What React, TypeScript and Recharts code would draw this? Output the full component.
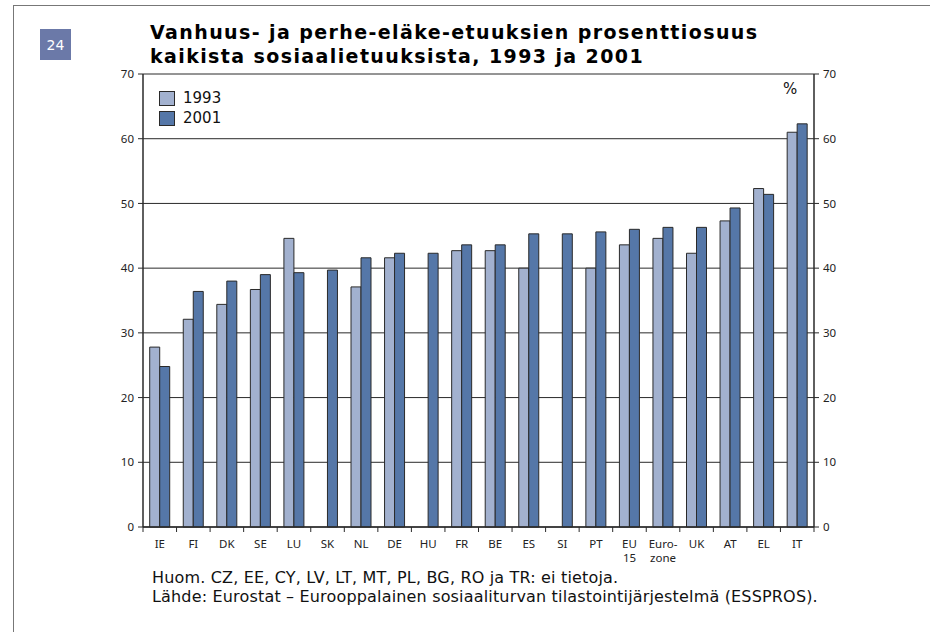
import React from 'react';
import { Bar, BarChart, CartesianGrid, XAxis, YAxis } from 'recharts';

const countries = ['IE', 'FI', 'DK', 'SE', 'LU', 'SK', 'NL', 'DE', 'HU', 'FR', 'BE', 'ES', 'SI', 'PT', 'EU\n15', 'Euro-\nzone', 'UK', 'AT', 'EL', 'IT'];
const values1993 = [27.8, 32.1, 34.4, 36.7, 44.6, null, 37.1, 41.6, null, 42.7, 42.7, 40.0, null, 40.0, 43.6, 44.6, 42.3, 47.3, 52.3, 61.0];
const values2001 = [24.8, 36.4, 38.0, 39.0, 39.3, 39.7, 41.6, 42.3, 42.3, 43.6, 43.6, 45.3, 45.3, 45.6, 46.0, 46.3, 46.3, 49.3, 51.4, 62.3];
const yTicks = [0, 10, 20, 30, 40, 50, 60, 70];

const titleLines = ['Vanhuus- ja perhe-eläke-etuuksien prosenttiosuus', 'kaikista sosiaalietuuksista, 1993 ja 2001'];
const notes = ['Huom. CZ, EE, CY, LV, LT, MT, PL, BG, RO ja TR: ei tietoja.', 'Lähde: Eurostat – Eurooppalainen sosiaaliturvan tilastointijärjestelmä (ESSPROS).'];

const COLOR_1993 = '#a2b1cf';
const COLOR_2001 = '#5577a8';
const LINE = '#2a2a2a';

const series = [
  { key: 'v1993', name: '1993', color: COLOR_1993 },
  { key: 'v2001', name: '2001', color: COLOR_2001 },
];

const data = countries.map((name, i) => ({ name, v1993: values1993[i], v2001: values2001[i] }));

// category label plus a small tick mark on the left edge of each band
const CountryTick = (props: any) => {
  const { x, y, payload, index, visibleTicksCount } = props;
  const half = payload.offset || 0;
  const lines = String(payload.value).split('\n');
  return (
    <g>
      <line x1={x - half} x2={x - half} y1={y} y2={y + 5} stroke={LINE} />
      {index === visibleTicksCount - 1 && <line x1={x + half} x2={x + half} y1={y} y2={y + 5} stroke={LINE} />}
      <text x={x} y={y + 21} textAnchor="middle" fontFamily="Noto Sans" fontSize={11.5} fill="#222">
        {lines.map((l, i) => (
          <tspan key={i} x={x} dy={i === 0 ? 0 : 14}>{l}</tspan>
        ))}
      </text>
    </g>
  );
};

const App = () => {
  return (
    <div style={{ position: 'absolute', left: 0, top: 0, width: 930, height: 632, background: '#fff', overflow: 'hidden' }}>
      <div style={{ position: 'absolute', left: 13, top: 5, right: -5, bottom: -5, borderLeft: '1.5px solid #777', borderTop: '1.5px solid #777' }} />
      <div style={{ position: 'absolute', left: 40, top: 29, width: 31, height: 31, background: '#6b79a8', color: '#fff', fontFamily: 'DejaVu Sans', fontSize: 14, display: 'flex', alignItems: 'center', justifyContent: 'center' }}>24</div>
      <div style={{ position: 'absolute', left: 150, top: 20, fontFamily: 'DejaVu Sans', fontWeight: 'bold', fontSize: 19, letterSpacing: 1.4, lineHeight: '24px', color: '#000' }}>
        {titleLines.map((t) => <div key={t}>{t}</div>)}
      </div>
      <BarChart
        width={930}
        height={632}
        data={data}
        margin={{ top: 74, right: 66, bottom: 65, left: 93 }}
        barCategoryGap="20%"
        barGap={0}
      >
        <CartesianGrid yAxisId="left" vertical={false} stroke={LINE} strokeWidth={1} />
        <XAxis dataKey="name" interval={0} height={40} tickLine={false} tickSize={0} tickMargin={0} axisLine={{ stroke: LINE, strokeWidth: 1.5 }} tick={<CountryTick />} />
        <YAxis yAxisId="left" domain={[0, 70]} ticks={yTicks} width={50} tickSize={5} tickMargin={4} axisLine={{ stroke: LINE, strokeWidth: 1.5 }} tickLine={{ stroke: LINE }} tick={{ fontFamily: 'Noto Sans', fontSize: 11.5, fill: '#222' }} />
        <YAxis yAxisId="right" orientation="right" domain={[0, 70]} ticks={yTicks} allowDataOverflow width={50} tickSize={5} tickMargin={4} axisLine={{ stroke: LINE, strokeWidth: 1.5 }} tickLine={{ stroke: LINE }} tick={{ fontFamily: 'Noto Sans', fontSize: 11.5, fill: '#222' }} />
        {series.map((s) => (
          <Bar key={s.key} yAxisId="left" dataKey={s.key} name={s.name} fill={s.color} stroke={LINE} strokeWidth={1} isAnimationActive={false} />
        ))}
      </BarChart>
      <div style={{ position: 'absolute', left: 159, top: 88 }}>
        {series.map((s) => (
          <div key={s.key} style={{ display: 'flex', alignItems: 'center', height: 20 }}>
            <span style={{ width: 14, height: 13, background: s.color, border: `1px solid ${LINE}`, marginRight: 8 }} />
            <span style={{ fontFamily: 'DejaVu Sans', fontSize: 15, color: '#111' }}>{s.name}</span>
          </div>
        ))}
      </div>
      <div style={{ position: 'absolute', left: 783, top: 80, fontFamily: 'DejaVu Sans', fontSize: 15, color: '#111' }}>%</div>
      <div style={{ position: 'absolute', left: 152, top: 568, fontFamily: 'DejaVu Sans', fontSize: 16, letterSpacing: 0.17, lineHeight: '19px', color: '#111' }}>
        {notes.map((n) => <div key={n}>{n}</div>)}
      </div>
    </div>
  );
};

export default App;
